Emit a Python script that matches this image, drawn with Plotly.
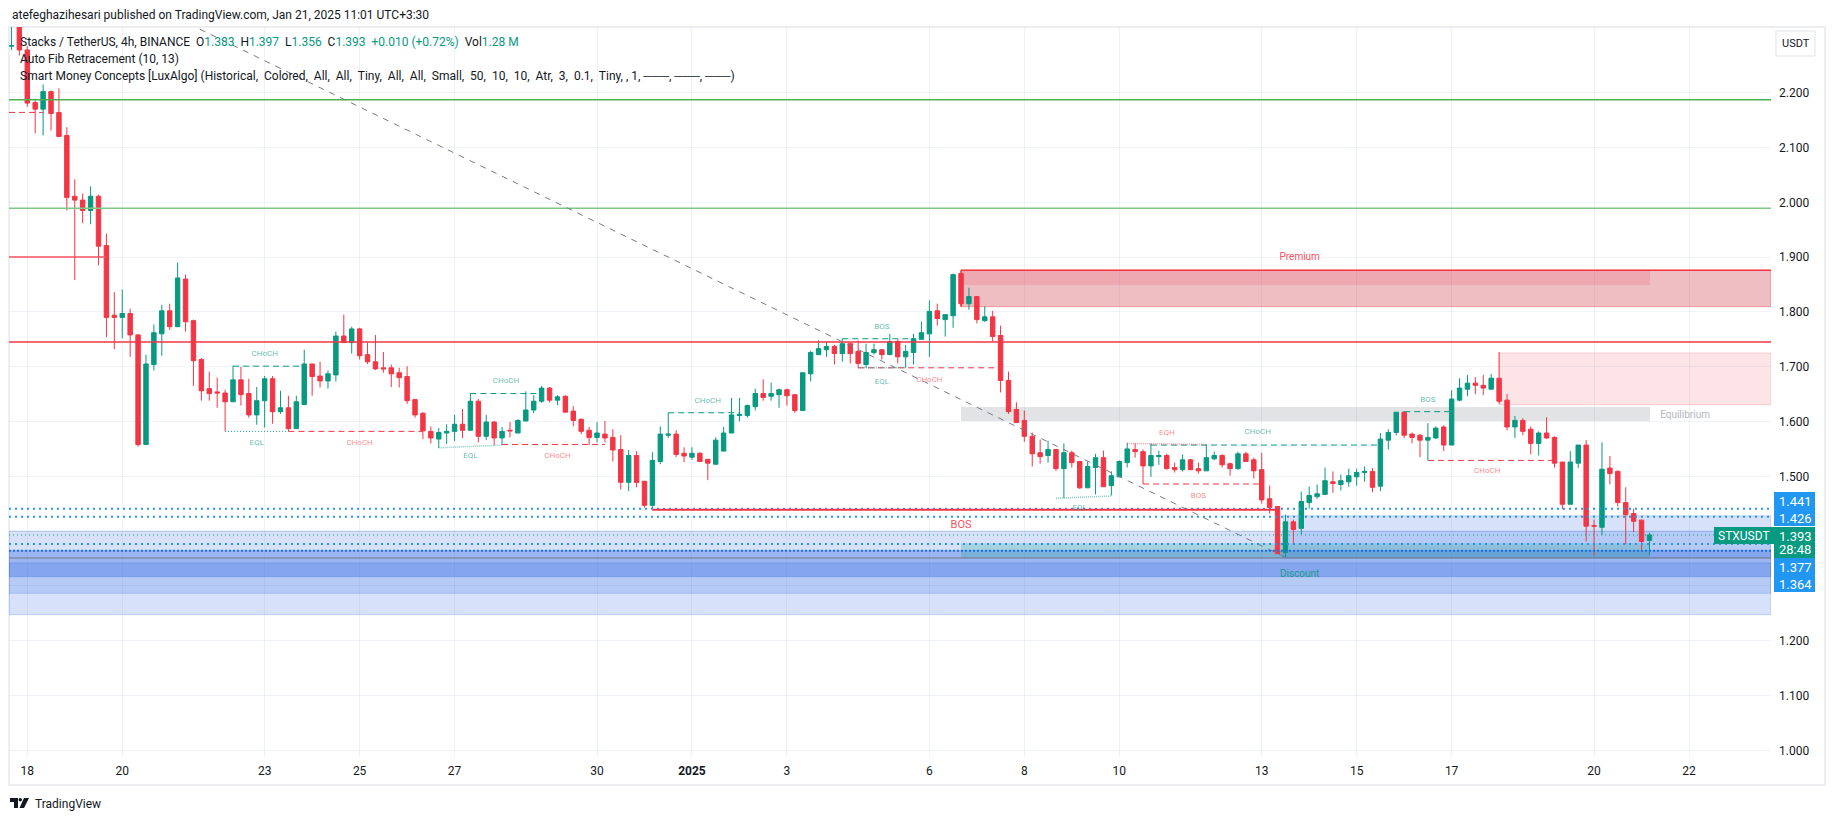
import plotly.graph_objects as go

#
# stxusdt 4h candles, x is the bar number counted from the "18" tick
#

bars = list(range(-2, 206))

opens = [2.285, 2.360, 2.278, 2.182, 2.170, 2.202, 2.164, 2.122, 2.011, 2.004,
         1.985, 2.011, 1.921, 1.794, 1.790, 1.797, 1.758, 1.558, 1.704, 1.760,
         1.802, 1.773, 1.860, 1.784, 1.713, 1.660, 1.654, 1.652, 1.636, 1.676,
         1.651, 1.612, 1.638, 1.678, 1.618, 1.625, 1.587, 1.631, 1.705, 1.683,
         1.674, 1.685, 1.756, 1.744, 1.769, 1.722, 1.709, 1.698, 1.698, 1.689,
         1.682, 1.640, 1.615, 1.582, 1.568, 1.579, 1.582, 1.595, 1.584, 1.637,
         1.573, 1.599, 1.570, 1.584, 1.579, 1.601, 1.621, 1.637, 1.661, 1.639,
         1.646, 1.619, 1.604, 1.584, 1.571, 1.577, 1.571, 1.549, 1.489, 1.538,
         1.491, 1.447, 1.527, 1.575, 1.577, 1.542, 1.535, 1.542, 1.531, 1.522,
         1.546, 1.579, 1.611, 1.611, 1.627, 1.651, 1.646, 1.649, 1.658, 1.649,
         1.620, 1.687, 1.722, 1.731, 1.737, 1.724, 1.742, 1.728, 1.704, 1.726,
         1.731, 1.722, 1.746, 1.718, 1.726, 1.750, 1.760, 1.802, 1.786, 1.793,
         1.870, 1.815, 1.828, 1.784, 1.791, 1.757, 1.675, 1.622, 1.602, 1.573,
         1.543, 1.538, 1.549, 1.514, 1.543, 1.527, 1.479, 1.516, 1.534, 1.483,
         1.499, 1.525, 1.549, 1.545, 1.519, 1.536, 1.538, 1.516, 1.512, 1.530,
         1.514, 1.510, 1.532, 1.538, 1.523, 1.514, 1.541, 1.530, 1.512, 1.459,
         1.445, 1.361, 1.417, 1.405, 1.452, 1.463, 1.467, 1.490, 1.485, 1.490,
         1.499, 1.507, 1.509, 1.482, 1.566, 1.580, 1.617, 1.577, 1.575, 1.566,
         1.570, 1.590, 1.557, 1.639, 1.659, 1.670, 1.666, 1.659, 1.679, 1.639,
         1.590, 1.602, 1.586, 1.560, 1.579, 1.571, 1.526, 1.449, 1.524, 1.557,
         1.410, 1.407, 1.515, 1.509, 1.452, 1.432, 1.420, 1.383]
highs = [2.400, 2.400, 2.285, 2.187, 2.215, 2.204, 2.208, 2.137, 2.042, 2.016,
         2.029, 2.014, 1.943, 1.836, 1.841, 1.806, 1.760, 1.722, 1.777, 1.813,
         1.815, 1.890, 1.868, 1.786, 1.716, 1.691, 1.680, 1.658, 1.702, 1.700,
         1.678, 1.663, 1.683, 1.683, 1.656, 1.647, 1.647, 1.731, 1.705, 1.709,
         1.693, 1.764, 1.795, 1.773, 1.771, 1.744, 1.758, 1.727, 1.704, 1.698,
         1.701, 1.640, 1.617, 1.591, 1.588, 1.595, 1.612, 1.623, 1.652, 1.641,
         1.612, 1.601, 1.590, 1.599, 1.604, 1.655, 1.648, 1.665, 1.663, 1.648,
         1.648, 1.628, 1.606, 1.590, 1.599, 1.601, 1.586, 1.575, 1.548, 1.546,
         1.491, 1.544, 1.591, 1.616, 1.584, 1.553, 1.553, 1.544, 1.531, 1.571,
         1.590, 1.643, 1.643, 1.631, 1.660, 1.677, 1.671, 1.660, 1.660, 1.649,
         1.689, 1.729, 1.748, 1.746, 1.740, 1.751, 1.744, 1.748, 1.742, 1.742,
         1.731, 1.760, 1.750, 1.740, 1.760, 1.782, 1.821, 1.815, 1.795, 1.870,
         1.870, 1.844, 1.828, 1.810, 1.802, 1.775, 1.691, 1.635, 1.620, 1.580,
         1.567, 1.565, 1.550, 1.560, 1.547, 1.527, 1.527, 1.541, 1.547, 1.509,
         1.529, 1.561, 1.560, 1.549, 1.560, 1.547, 1.541, 1.525, 1.540, 1.532,
         1.525, 1.558, 1.545, 1.540, 1.525, 1.545, 1.545, 1.534, 1.543, 1.483,
         1.445, 1.430, 1.421, 1.472, 1.481, 1.485, 1.516, 1.509, 1.503, 1.514,
         1.514, 1.518, 1.515, 1.579, 1.586, 1.617, 1.619, 1.580, 1.577, 1.597,
         1.591, 1.593, 1.657, 1.679, 1.685, 1.681, 1.685, 1.687, 1.727, 1.650,
         1.610, 1.606, 1.591, 1.582, 1.608, 1.573, 1.526, 1.546, 1.557, 1.566,
         1.421, 1.562, 1.537, 1.511, 1.480, 1.441, 1.421, 1.397]
lows = [2.278, 2.268, 2.174, 2.126, 2.122, 2.131, 2.120, 1.985, 1.858, 1.962,
        1.960, 1.885, 1.754, 1.732, 1.752, 1.718, 1.554, 1.558, 1.693, 1.720,
        1.767, 1.773, 1.764, 1.665, 1.638, 1.638, 1.625, 1.582, 1.636, 1.629,
        1.607, 1.594, 1.589, 1.596, 1.614, 1.582, 1.587, 1.631, 1.647, 1.662,
        1.660, 1.673, 1.744, 1.724, 1.713, 1.705, 1.694, 1.689, 1.663, 1.662,
        1.632, 1.607, 1.568, 1.560, 1.552, 1.559, 1.564, 1.570, 1.584, 1.562,
        1.566, 1.557, 1.557, 1.571, 1.579, 1.601, 1.615, 1.634, 1.635, 1.630,
        1.617, 1.591, 1.577, 1.557, 1.562, 1.562, 1.527, 1.476, 1.473, 1.480,
        1.443, 1.440, 1.522, 1.570, 1.535, 1.526, 1.530, 1.527, 1.493, 1.522,
        1.546, 1.579, 1.600, 1.607, 1.620, 1.638, 1.638, 1.625, 1.629, 1.616,
        1.620, 1.673, 1.722, 1.718, 1.704, 1.709, 1.706, 1.698, 1.698, 1.722,
        1.713, 1.722, 1.706, 1.698, 1.704, 1.750, 1.718, 1.775, 1.755, 1.771,
        1.810, 1.804, 1.779, 1.782, 1.746, 1.653, 1.614, 1.598, 1.563, 1.518,
        1.523, 1.525, 1.510, 1.460, 1.516, 1.477, 1.479, 1.467, 1.481, 1.465,
        1.499, 1.516, 1.534, 1.486, 1.499, 1.521, 1.512, 1.507, 1.509, 1.512,
        1.505, 1.510, 1.529, 1.516, 1.501, 1.512, 1.527, 1.496, 1.450, 1.432,
        1.359, 1.352, 1.375, 1.394, 1.441, 1.459, 1.467, 1.470, 1.474, 1.481,
        1.483, 1.490, 1.471, 1.473, 1.549, 1.575, 1.570, 1.560, 1.535, 1.529,
        1.568, 1.546, 1.557, 1.637, 1.646, 1.650, 1.648, 1.659, 1.632, 1.584,
        1.570, 1.575, 1.540, 1.538, 1.568, 1.516, 1.440, 1.449, 1.515, 1.381,
        1.355, 1.393, 1.485, 1.445, 1.376, 1.398, 1.366, 1.356]
closes = [2.286, 2.278, 2.181, 2.170, 2.202, 2.162, 2.120, 2.009, 2.004, 1.985,
          2.011, 1.920, 1.790, 1.790, 1.797, 1.758, 1.558, 1.705, 1.762, 1.802,
          1.773, 1.862, 1.782, 1.711, 1.656, 1.651, 1.652, 1.636, 1.676, 1.649,
          1.612, 1.638, 1.678, 1.618, 1.625, 1.587, 1.636, 1.705, 1.682, 1.674,
          1.687, 1.756, 1.744, 1.769, 1.720, 1.709, 1.696, 1.696, 1.687, 1.680,
          1.638, 1.612, 1.583, 1.570, 1.580, 1.582, 1.595, 1.584, 1.637, 1.573,
          1.599, 1.570, 1.582, 1.583, 1.602, 1.621, 1.637, 1.661, 1.639, 1.645,
          1.617, 1.602, 1.582, 1.571, 1.579, 1.570, 1.548, 1.489, 1.538, 1.489,
          1.447, 1.529, 1.577, 1.577, 1.540, 1.537, 1.542, 1.527, 1.524, 1.566,
          1.579, 1.612, 1.613, 1.629, 1.651, 1.644, 1.651, 1.658, 1.647, 1.620,
          1.689, 1.726, 1.733, 1.737, 1.724, 1.742, 1.724, 1.706, 1.726, 1.731,
          1.722, 1.746, 1.718, 1.728, 1.751, 1.762, 1.801, 1.788, 1.795, 1.868,
          1.815, 1.828, 1.786, 1.791, 1.755, 1.675, 1.618, 1.598, 1.573, 1.541,
          1.536, 1.549, 1.514, 1.543, 1.525, 1.479, 1.518, 1.534, 1.481, 1.501,
          1.527, 1.550, 1.545, 1.519, 1.538, 1.538, 1.514, 1.512, 1.530, 1.512,
          1.510, 1.534, 1.538, 1.521, 1.514, 1.541, 1.527, 1.510, 1.457, 1.443,
          1.359, 1.417, 1.403, 1.454, 1.465, 1.468, 1.492, 1.487, 1.492, 1.501,
          1.507, 1.509, 1.480, 1.568, 1.580, 1.617, 1.575, 1.571, 1.566, 1.571,
          1.588, 1.557, 1.641, 1.661, 1.670, 1.666, 1.661, 1.679, 1.637, 1.590,
          1.602, 1.582, 1.560, 1.579, 1.570, 1.524, 1.449, 1.526, 1.557, 1.409,
          1.409, 1.513, 1.505, 1.452, 1.430, 1.418, 1.381, 1.393]

# axes
x_min, x_max = -2.31, 220.36
y_min, y_max = 0.9878, 2.3199
price_ticks = [1.0, 1.1, 1.2, 1.3, 1.4, 1.5, 1.6, 1.7, 1.8, 1.9, 2.0, 2.1, 2.2]
price_text = ["1.000", "1.100", "1.200", "", "", "1.500", "1.600", "1.700", "1.800", "1.900", "2.000", "2.100", "2.200"]
time_ticks = [0, 12, 30, 42, 54, 72, 84, 96, 114, 126, 138, 156, 168, 180, 198, 210]
time_text = ["18", "20", "23", "25", "27", "30", "<b>2025</b>", "3", "6", "8", "10", "13", "15", "17", "20", "22"]

# smart money structure lines: x0, x1, y0, y1
choch_up = [(26, 35, 1.701, 1.701), (56, 65, 1.651, 1.651), (81, 90, 1.616, 1.616), (142, 171, 1.557, 1.557)]
bos_up = [(103, 112, 1.751, 1.751), (174, 180, 1.618, 1.618)]
choch_down = [(33, 50, 1.582, 1.582), (60, 73, 1.558, 1.558), (105, 123, 1.698, 1.698), (177, 193, 1.529, 1.529), (-2.3, 2, 2.164, 2.164)]
bos_down = [(141, 156, 1.486, 1.486)]
eql_lines = [(52, 60, 1.552, 1.557), (105, 111, 1.698, 1.698), (130, 137, 1.460, 1.464)]
eql_strong = [(25, 33, 1.582, 1.582)]
eqh_lines = [(139, 149, 1.560, 1.558)]

# small structure labels
label_x = [30, 42, 29, 60.5, 67, 56, 86, 108, 108, 114, 133, 144, 155.5, 148, 177, 184.5]
label_y = [1.724, 1.560, 1.560, 1.674, 1.537, 1.537, 1.638, 1.772, 1.673, 1.675, 1.442, 1.579, 1.580, 1.464, 1.640, 1.509]
label_text = ["CHoCH", "CHoCH", "EQL", "CHoCH", "CHoCH", "EQL", "CHoCH", "BOS", "EQL", "CHoCH", "EQL", "EQH", "CHoCH", "BOS", "BOS", "CHoCH"]

GREEN = "#089981"
RED = "#f23645"
BLUE = "#2196f3"

fig = go.Figure()

fig.add_trace(go.Candlestick(
    x=bars, open=opens, high=highs, low=lows, close=closes,
    increasing=dict(line=dict(color=GREEN, width=1), fillcolor=GREEN),
    decreasing=dict(line=dict(color=RED, width=1), fillcolor=RED),
    whiskerwidth=0, showlegend=False, hoverinfo="skip",
))


def add_line(x, y, color, width=1, dash="solid"):
    fig.add_trace(go.Scatter(x=x, y=y, mode="lines", showlegend=False, hoverinfo="skip",
                             line=dict(color=color, width=width, dash=dash)))


def add_segments(segments, color, width=1, dash="solid"):
    for x0, x1, y0, y1 in segments:
        add_line([x0, x1], [y0, y1], color, width, dash)


# auto fib levels
add_line([x_min, x_max], [2.187, 2.187], "#4caf50", 1.5)
add_line([x_min, x_max], [1.989, 1.989], "#81c784", 1.5)
add_line([x_min, 10], [1.900, 1.900], "#f7525f", 1.5)
add_line([x_min, x_max], [1.745, 1.745], RED, 1.5)
add_line([21.8, 159], [2.316, 1.352], "#787b86", 1, "6px,6px")

# order flow levels
add_line([x_min, x_max], [1.441, 1.441], BLUE, 2, "2px,4px")
add_line([x_min, x_max], [1.426, 1.426], BLUE, 2, "2px,4px")
add_line([x_min, x_max], [1.3765, 1.3765], BLUE, 2, "2px,4px")
add_line([x_min, x_max], [1.364, 1.364], "#1e6fe0", 2, "2px,2px")
add_line([x_min, x_max], [1.393, 1.393], GREEN, 1, "1px,3px")

add_segments(choch_up, GREEN, 1, "6px,4px")
add_segments(bos_up, GREEN, 1, "6px,4px")
add_segments(choch_down, RED, 1, "6px,4px")
add_segments(bos_down, RED, 1, "6px,4px")
add_segments(eql_lines, "rgba(8,153,129,0.5)", 1.5, "1px,1px")
add_segments(eql_strong, GREEN, 1, "1px,2px")
add_segments(eqh_lines, "rgba(242,54,69,0.5)", 1.5, "1px,1px")
add_line([79, 158], [1.439, 1.439], RED, 2)

label_colors = []
for t, x in zip(label_text, label_x):
    # the red labels sit under a break of the low
    red = x in (42, 67, 114, 144, 148, 184.5)
    label_colors.append("rgba(242,54,69,0.6)" if red else "rgba(8,153,129,0.65)")
fig.add_trace(go.Scatter(x=label_x, y=label_y, mode="text", text=label_text, showlegend=False, hoverinfo="skip",
                         textfont=dict(family="Roboto", size=8, color=label_colors)))
fig.add_trace(go.Scatter(x=[118, 160.8, 160.8, 209.5], y=[1.410, 1.3205, 1.900, 1.611], mode="text",
                         text=["BOS", "Discount", "Premium", "Equilibrium"], showlegend=False, hoverinfo="skip",
                         textfont=dict(family="Roboto", size=[11, 10, 10, 10],
                                       color=["#f7525f", "#1a9a8c", "#f7525f", "#b2b5be"])))

# plot area in pixels, used for what sits outside the axes
L, R, T, B = 9, 1771, 27, 757


def px(x):
    return (x - L) / (R - L)


def py(y):
    return (B - y) / (B - T)


shapes = []


def zone(x0, x1, y0, y1, fill, line="rgba(0,0,0,0)"):
    shapes.append(dict(type="rect", layer="below", xref="x", yref="y", x0=x0, x1=x1, y0=y0, y1=y1,
                       fillcolor=fill, line=dict(color=line, width=1)))


BAND = "rgba(35,95,225,0.18)"
BAND_LINE = "rgba(35,95,225,0.22)"
zone(x_min, x_max, 1.2475, 1.400, BAND, BAND_LINE)
zone(x_min, x_max, 1.2865, 1.3645, BAND, BAND_LINE)
zone(x_min, x_max, 1.3167, 1.3645, BAND)
zone(x_min, x_max, 1.3167, 1.342, BAND, BAND_LINE)
zone(158.7, x_max, 1.351, 1.428, BAND, BAND_LINE)
zone(118, 205.07, 1.3504, 1.3777, "rgba(8,153,129,0.22)")
zone(x_min, x_max, 1.351, 1.351, "rgba(0,0,0,0)", "rgba(120,123,134,0.6)")

# premium / equilibrium
zone(118, x_max, 1.8095, 1.876, "rgba(200,40,55,0.3)", "rgba(242,54,69,0.4)")
zone(118, 205.07, 1.849, 1.876, "rgba(242,54,69,0.15)")
add_line([118, x_max], [1.876, 1.876], RED, 1.5)
add_line([118, 118], [1.8095, 1.876], RED, 1.5)
zone(118, 205.07, 1.601, 1.6265, "#e1e3e5")
zone(186, x_max, 1.6307, 1.725, "rgba(242,54,69,0.13)", "rgba(242,54,69,0.2)")


def box(x0, x1, y0, y1, fill):
    shapes.append(dict(type="rect", xref="paper", yref="paper", x0=px(x0), x1=px(x1), y0=py(y0), y1=py(y1),
                       fillcolor=fill, line=dict(width=0), layer="above"))


# frame and price scale
shapes.append(dict(type="rect", xref="paper", yref="paper", x0=px(9), x1=px(1825), y0=py(27), y1=py(785),
                   line=dict(color="#eceef3", width=2), layer="below"))
box(1774, 1815, 492, 526, BLUE)
box(1774, 1815, 527, 558, GREEN)
box(1774, 1815, 558, 592, BLUE)
box(1714, 1774, 527, 544, GREEN)
shapes.append(dict(type="rect", xref="paper", yref="paper", x0=px(1776), x1=px(1815), y0=py(31), y1=py(56),
                   line=dict(color="#e0e3eb", width=1), layer="above"))

# tradingview mark
shapes.append(dict(type="path", xref="paper", yref="paper", fillcolor="#131722", line=dict(width=0), layer="above",
                   path=f"M {px(10)} {py(798)} L {px(18)} {py(798)} L {px(18)} {py(808)} L {px(14)} {py(808)} "
                        f"L {px(14)} {py(802)} L {px(10)} {py(802)} Z "
                        f"M {px(24)} {py(798)} L {px(29)} {py(798)} L {px(24)} {py(808)} L {px(19.5)} {py(808)} Z"))
shapes.append(dict(type="circle", xref="paper", yref="paper", fillcolor="#131722", line=dict(width=0), layer="above",
                   x0=px(18.5), x1=px(22), y0=py(798), y1=py(801.5)))


def note(x, y, text, size=12, color="#131722", anchor="left", family="Roboto"):
    return dict(xref="paper", yref="paper", x=px(x), y=py(y), text=text, showarrow=False, xanchor=anchor,
                yanchor="middle", font=dict(family=family, size=size, color=color), align="left")


g = f'<span style="color:{GREEN}">'
legend_line = (f'Stacks / TetherUS, 4h, BINANCE  O{g}1.383</span>  H{g}1.397</span>  L{g}1.356</span>  '
               f'C{g}1.393</span>  {g}+0.010 (+0.72%)</span>  Vol{g}1.28 M</span>')
smc_args = ("Historical, Colored, All, All, Tiny, All, All, Small, 50, 10, 10, Atr, 3, 0.1, Tiny"
            .replace(", ", ",\u00a0\u00a0")) + ", , 1, ───, ───, ───"

annotations = [
    note(10, 15, "atefeghazihesari published on TradingView.com, Jan 21, 2025 11:01 UTC+3:30", 12),
    note(18, 42, legend_line, 12),
    note(18, 59, "Auto Fib Retracement (10, 13)", 12),
    note(18, 76, f"Smart Money Concepts [LuxAlgo] ({smc_args})", 12),
    note(1796, 43, "USDT", 11, anchor="center"),
    note(1795, 501, "1.441", 13, "white", "center"),
    note(1795, 518, "1.426", 13, "white", "center"),
    note(1795, 536, "1.393", 13, "white", "center"),
    note(1795, 549, "28:48", 13, "white", "center"),
    note(1795, 567, "1.377", 13, "white", "center"),
    note(1795, 584, "1.364", 13, "white", "center"),
    note(1744, 535.5, "STXUSDT", 12, "white", "center"),
    note(33, 804, "TradingView", 12),
]

GRID = "rgba(60,90,180,0.08)"

fig.update_layout(
    width=1835, height=821,
    margin=dict(l=L, r=1835 - R, t=T, b=821 - B),
    paper_bgcolor="white", plot_bgcolor="white",
    showlegend=False, boxgap=0.2,
    shapes=shapes, annotations=annotations,
    font=dict(family="Roboto", size=12, color="#131722"),
    xaxis=dict(range=[x_min, x_max], tickmode="array", tickvals=time_ticks, ticktext=time_text,
               showgrid=True, gridcolor=GRID, gridwidth=1, zeroline=False, showline=False,
               rangeslider=dict(visible=False), ticklabelstandoff=5, ticks=""),
    yaxis=dict(range=[y_min, y_max], side="right", tickmode="array", tickvals=price_ticks, ticktext=price_text,
               showgrid=True, gridcolor=GRID, gridwidth=1, zeroline=False, showline=False,
               ticklabelstandoff=7, ticks=""),
)

fig.write_html("out.html", config={"displayModeBar": False},
               post_script="document.body.style.margin='0';document.body.style.overflow='hidden';")
